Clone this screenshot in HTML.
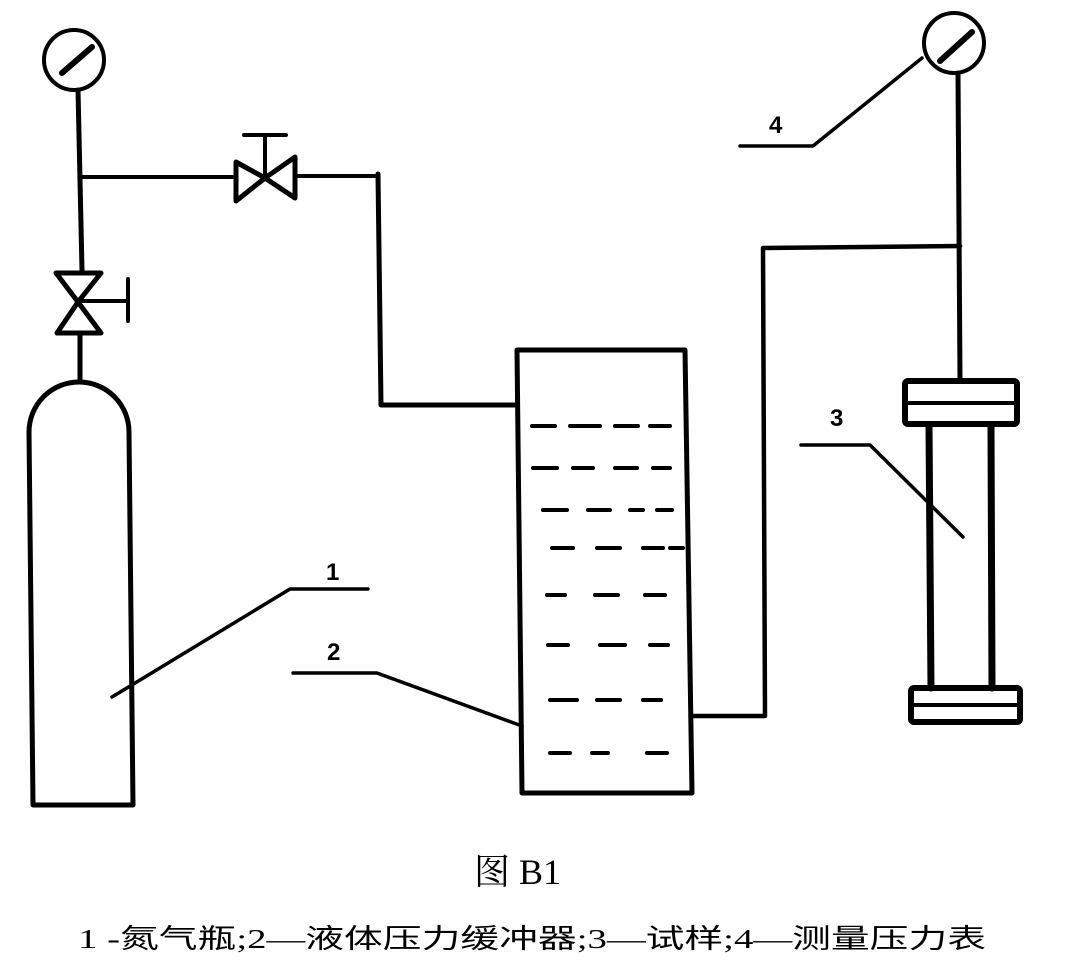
<!DOCTYPE html>
<html><head><meta charset="utf-8"><style>
html,body{margin:0;padding:0;background:#fff;}
svg{display:block;}
</style></head><body>
<svg width="1066" height="972" viewBox="0 0 1066 972" xmlns="http://www.w3.org/2000/svg">
<g fill="none" stroke="#000" stroke-linecap="round" stroke-linejoin="round">
<circle cx="74" cy="60" r="30" stroke-width="4"/>
<line x1="62" y1="73" x2="92" y2="47" stroke-width="6"/>
<line x1="78" y1="90" x2="82" y2="270" stroke-width="5"/>
<line x1="82" y1="177" x2="232" y2="177" stroke-width="4"/>
<path d="M236 162 L265 178 L236 201 Z" stroke-width="5"/>
<path d="M295 157 L265 178 L295 198 Z" stroke-width="5"/>
<line x1="265" y1="178" x2="265" y2="135" stroke-width="4"/>
<line x1="244" y1="135" x2="286" y2="135" stroke-width="4"/>
<line x1="298" y1="176" x2="378" y2="176" stroke-width="4"/>
<polyline points="378,174 381,405 517,405" stroke-width="5"/>
<path d="M56 273 L101 273 L78 302 Z" stroke-width="5"/>
<path d="M57 333 L101 333 L78 302 Z" stroke-width="5"/>
<line x1="78" y1="301" x2="127" y2="301" stroke-width="4"/>
<line x1="128" y1="279" x2="128" y2="321" stroke-width="4"/>
<line x1="80" y1="334" x2="80" y2="382" stroke-width="5"/>
<path d="M33 805 L29 432 A50 50 0 0 1 129 432 L133 805 Z" stroke-width="5"/>
<polyline points="112,697 290,589 368,589" stroke-width="3.5"/>
<polyline points="293,673 377,673 522,726" stroke-width="3.5"/>
<path d="M517 350 L685 350 L692 793 L522 793 Z" stroke-width="5"/>
<g stroke-width="4">
<path d="M532 426H555M570 426H600M615 426H638M650 426H670"/>
<path d="M533 468H557M573 468H593M615 468H637M653 468H670"/>
<path d="M543 510H567M588 510H610M630 510H643M657 510H672"/>
<path d="M552 548H573M597 548H620M643 548H663M670 548H683"/>
<path d="M547 595H565M595 595H618M645 595H665"/>
<path d="M548 645H568M600 645H625M650 645H668"/>
<path d="M550 700H577M597 700H620M643 700H661"/>
<path d="M550 753H570M592 753H608M647 753H667"/>
</g>
<polyline points="692,716 765,716 763,248 960,246" stroke-width="4.5"/>
<circle cx="954" cy="43" r="30" stroke-width="4"/>
<line x1="940" y1="61" x2="972" y2="32" stroke-width="6"/>
<line x1="958" y1="73" x2="960" y2="380" stroke-width="5"/>
<polyline points="740,146 813,146 922,58" stroke-width="3.5"/>
<rect x="905" y="381" width="112" height="43" rx="3" stroke-width="6"/>
<line x1="906" y1="403" x2="1016" y2="403" stroke-width="4"/>
<line x1="929" y1="425" x2="931" y2="688" stroke-width="7"/>
<line x1="991" y1="425" x2="992" y2="688" stroke-width="7"/>
<rect x="911" y="688" width="109" height="34" rx="3" stroke-width="6"/>
<line x1="912" y1="705" x2="1019" y2="705" stroke-width="4"/>
<polyline points="801,445 870,445 963,537" stroke-width="3.5"/>
</g>
<g font-family="'Liberation Sans Narrow','Liberation Sans',sans-serif" font-weight="bold" font-size="24" fill="#000">
<text x="326" y="580">1</text>
<text x="327" y="660">2</text>
<text x="830" y="426">3</text>
<text x="769" y="133">4</text>
</g>
<text x="474" y="884" font-family="'Liberation Serif','Noto Serif CJK SC',serif" font-size="36" fill="#000">图 B1</text>
<text x="78" y="948" textLength="908" lengthAdjust="spacingAndGlyphs" font-family="'Liberation Serif','Noto Sans CJK SC',sans-serif" font-size="27" fill="#000">1 -氮气瓶;2—液体压力缓冲器;3—试样;4—测量压力表</text>
</svg>
</body></html>
